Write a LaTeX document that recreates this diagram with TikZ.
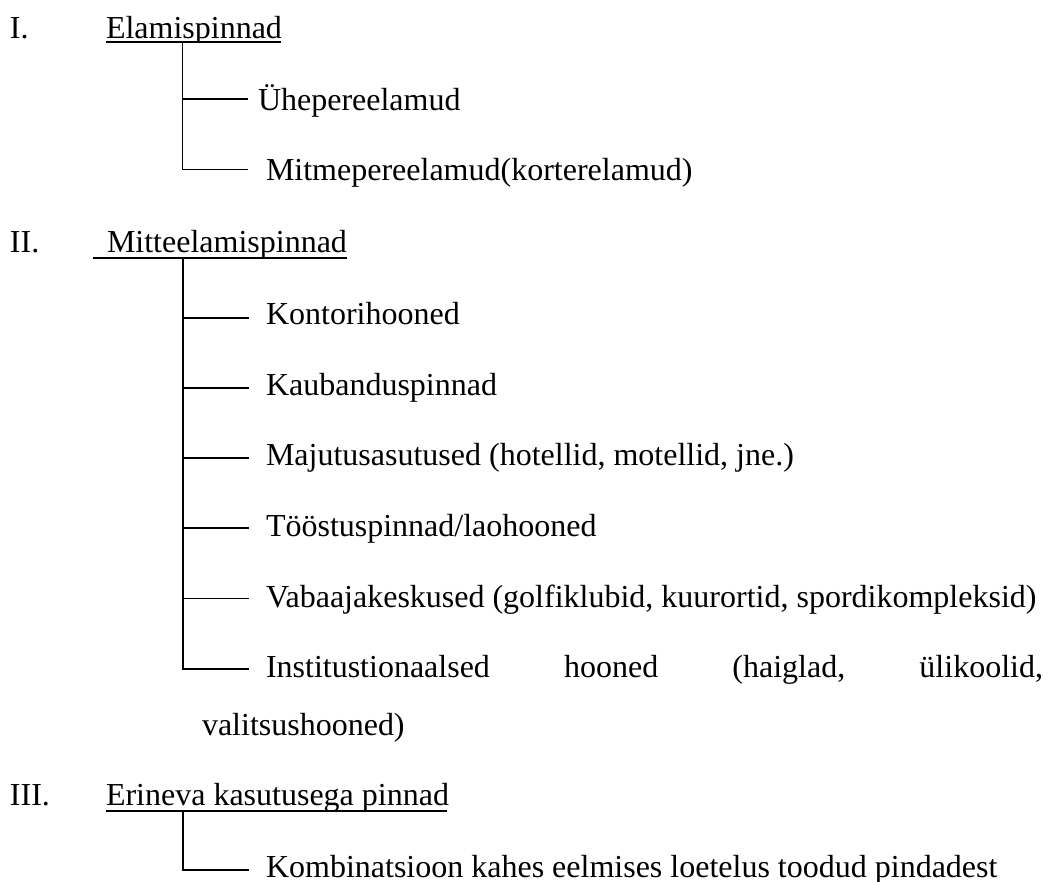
\documentclass[tikz,border=0pt]{standalone}
\usepackage{fontspec}
\setmainfont{Liberation Serif}
\begin{document}
\begin{tikzpicture}[x=0.75pt,y=-0.75pt,
  txt/.style={anchor=base west,inner sep=0pt,outer sep=0pt,font=\fontsize{24}{28}\selectfont},
  treeline/.style={line width=1.4pt},
  uline/.style={line width=1.3pt}]
\useasboundingbox (0,0) rectangle (1051,882);

% ---------- Section I ----------
\node[txt] (numI) at (10,38) {I.};
\begin{scope}
  \clip (0,0) rectangle (1051,42);
  \node[txt] (headI) at (106,38) {Elamispinnad};
\end{scope}
\coordinate (ulIa) at (106,42);
\coordinate (ulIb) at (281,42);
\draw[uline] (ulIa) -- (ulIb);
\coordinate (topI) at (182.5,42);
\coordinate (bI1) at (248,99);
\coordinate (bI2) at (248,169.5);
\node[txt] (cI1) at (258,110) {Ühepereelamud};
\node[txt] (cI2) at (266,180.5) {Mitmepereelamud(korterelamud)};
\draw[treeline] (topI) |- (bI2);
\draw[treeline] (topI |- bI1) -- (bI1);

% ---------- Section II ----------
\node[txt] (numII) at (10,252) {II.};
\node[txt] (headII) at (107,252) {Mitteelamispinnad};
\coordinate (ulIIa) at (93,258.3);
\coordinate (ulIIb) at (347,258.3);
\draw[uline] (ulIIa) -- (ulIIb);
\coordinate (topII) at (183,258.3);
\coordinate (bII1) at (249,318.3);
\coordinate (bII2) at (249,388.3);
\coordinate (bII3) at (249,458.3);
\coordinate (bII4) at (249,528.3);
\coordinate (bII5) at (249,598.5);
\coordinate (bII6) at (249,669);
\node[txt] (cII1) at (266,324.5) {Kontorihooned};
\node[txt] (cII2) at (266,395) {Kaubanduspinnad};
\node[txt] (cII3) at (266,465.5) {Majutusasutused (hotellid, motellid, jne.)};
\node[txt] (cII4) at (266,536) {Tööstuspinnad/laohooned};
\node[txt] (cII5) at (266,607) {Vabaajakeskused (golfiklubid, kuurortid, spordikompleksid)};
\node[txt] (cII6) at (266,677.5) {\hbox to 582.75pt{Institustionaalsed\hfill hooned\hfill (haiglad,\hfill ülikoolid,}};
\node[txt] (cII6b) at (202,735) {valitsushooned)};
\draw[treeline] (topII) |- (bII6);
\foreach \k in {1,...,5}{
  \draw[treeline] (topII |- bII\k) -- (bII\k);
}

% ---------- Section III ----------
\node[txt] (numIII) at (10,805) {III.};
\begin{scope}
  \clip (0,700) rectangle (1051,811);
  \node[txt] (headIII) at (106,805) {Erineva kasutusega pinnad};
\end{scope}
\coordinate (ulIIIa) at (106,811);
\coordinate (ulIIIb) at (447,811);
\draw[uline] (ulIIIa) -- (ulIIIb);
\coordinate (topIII) at (183,811);
\coordinate (bIII1) at (249,870);
\node[txt] (cIII1) at (266,877) {Kombinatsioon kahes eelmises loetelus toodud pindadest};
\draw[treeline] (topIII) |- (bIII1);
\end{tikzpicture}
\end{document}
